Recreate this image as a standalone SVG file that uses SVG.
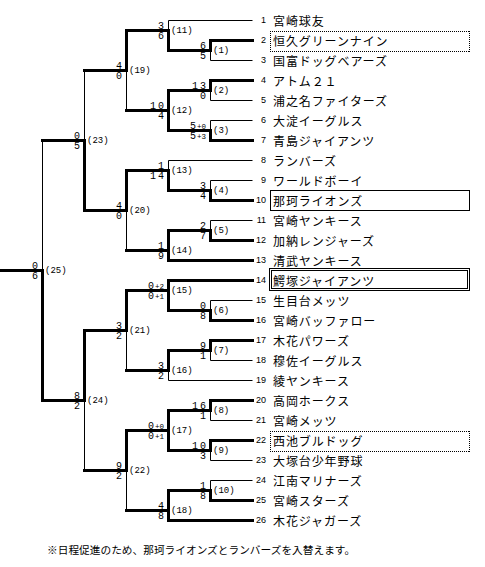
<svg xmlns="http://www.w3.org/2000/svg" width="485" height="567" viewBox="0 0 485 567">
<style>
.bg{fill:#fff}
.t{stroke:#000;stroke-width:1;fill:none}
.k{stroke:#000;stroke-width:3;fill:none;stroke-linecap:square;stroke-linejoin:miter}
.no{font-family:"Liberation Sans",Arial,sans-serif;font-size:9px;fill:#000;text-anchor:end}
.nm{font-family:"Noto Sans CJK JP","Noto Sans CJK SC",sans-serif;font-size:12px;letter-spacing:0.9px;fill:#000}
.sc{font-family:"Liberation Mono","DejaVu Sans Mono",monospace;font-size:10px;fill:#000;text-anchor:end}
.sm{font-size:7.5px}
.lb{font-family:"Liberation Mono","DejaVu Sans Mono",monospace;font-size:9px;fill:#000}
.dot{fill:none;stroke:#000;stroke-width:1;stroke-dasharray:1 1}
.box{fill:none;stroke:#000;stroke-width:1}
.note{font-family:"Noto Sans CJK JP","Noto Sans CJK SC",sans-serif;font-size:10.7px;fill:#000}
</style>
<rect class="bg" x="0" y="0" width="485" height="567"/>
<g id="connectors" transform="translate(0.5,0.5)">
<path class="t" d="M168 20H252M210 40H252M210 60H252M210 80H252M210 100H252M210 120H252M210 140H252M168 160H252M210 180H252M210 200H252M210 220H252M210 240H252M168 260H252M168 280H252M210 300H252M210 320H252M210 340H252M210 360H252M168 380H252M210 400H252M210 420H252M210 440H252M210 460H252M210 480H252M210 500H252M168 520H252"/>
<path class="t" d="M210 40V60M210 80V100M210 120V140M210 180V200M210 220V240M210 300V320M210 340V360M210 400V420M210 440V460M210 480V500"/>
<path class="t" d="M168 20V50M168 90V130M168 160V190M168 230V260M168 280V310M168 350V380M168 410V450M168 490V520"/>
<path class="t" d="M126 30V110M126 170V250M126 290V370M126 430V510M84 70V210M84 330V470M42 140V400"/>
<path class="k" d="M252 40H210V50H168"/>
<path class="k" d="M252 80H210V90H168"/>
<path class="k" d="M252 140H210V130H168"/>
<path class="k" d="M252 200H210V190H168"/>
<path class="k" d="M252 240H210V230H168"/>
<path class="k" d="M252 320H210V310H168"/>
<path class="k" d="M252 340H210V350H168"/>
<path class="k" d="M252 400H210V410H168"/>
<path class="k" d="M252 440H210V450H168"/>
<path class="k" d="M252 500H210V490H168"/>
<path class="k" d="M168 50V30H126"/>
<path class="k" d="M168 90V110H126M168 130V110"/>
<path class="k" d="M168 190V170H126"/>
<path class="k" d="M252 260H168V250H126M168 230V250"/>
<path class="k" d="M252 280H168V290H126M168 310V290"/>
<path class="k" d="M168 350V370H126"/>
<path class="k" d="M168 450V430H126M168 410V430"/>
<path class="k" d="M252 520H168V510H126M168 490V510"/>
<path class="k" d="M126 30V70H84"/>
<path class="k" d="M126 170V210H84"/>
<path class="k" d="M126 290V330H84"/>
<path class="k" d="M126 430V470H84"/>
<path class="k" d="M84 210V140H42"/>
<path class="k" d="M84 330V400H42"/>
<path class="k" d="M42 400V270H0"/>
</g>
<g id="team-1"><text class="no" x="266" y="23">1</text><text class="nm" x="273" y="25.5">宮崎球友</text></g>
<g id="team-2"><path class="dot" d="M270 31.5H470M270 51.5H470M270.5 31V52M469.5 31V52"/><text class="no" x="266" y="43">2</text><text class="nm" x="273" y="45.5">恒久グリーンナイン</text></g>
<g id="team-3"><text class="no" x="266" y="63">3</text><text class="nm" x="273" y="65.5">国富ドッグベアーズ</text></g>
<g id="team-4"><text class="no" x="266" y="83">4</text><text class="nm" x="273" y="85.5">アトム２１</text></g>
<g id="team-5"><text class="no" x="266" y="103">5</text><text class="nm" x="273" y="105.5">浦之名ファイターズ</text></g>
<g id="team-6"><text class="no" x="266" y="123">6</text><text class="nm" x="273" y="125.5">大淀イーグルス</text></g>
<g id="team-7"><text class="no" x="266" y="143">7</text><text class="nm" x="273" y="145.5">青島ジャイアンツ</text></g>
<g id="team-8"><text class="no" x="266" y="163">8</text><text class="nm" x="273" y="165.5">ランバーズ</text></g>
<g id="team-9"><text class="no" x="266" y="183">9</text><text class="nm" x="273" y="185.5">ワールドボーイ</text></g>
<g id="team-10"><rect class="box" x="270.5" y="190.5" width="199" height="20"/><text class="no" x="266" y="203">10</text><text class="nm" x="273" y="205.5">那珂ライオンズ</text></g>
<g id="team-11"><text class="no" x="266" y="223">11</text><text class="nm" x="273" y="225.5">宮崎ヤンキース</text></g>
<g id="team-12"><text class="no" x="266" y="243">12</text><text class="nm" x="273" y="245.5">加納レンジャーズ</text></g>
<g id="team-13"><text class="no" x="266" y="263">13</text><text class="nm" x="273" y="265.5">清武ヤンキース</text></g>
<g id="team-14"><rect class="box" x="269.5" y="268.5" width="200" height="22"/><rect class="box" x="271.5" y="270.5" width="196" height="18"/><text class="no" x="266" y="283">14</text><text class="nm" x="273" y="285.5">鰐塚ジャイアンツ</text></g>
<g id="team-15"><text class="no" x="266" y="303">15</text><text class="nm" x="273" y="305.5">生目台メッツ</text></g>
<g id="team-16"><text class="no" x="266" y="323">16</text><text class="nm" x="273" y="325.5">宮崎バッファロー</text></g>
<g id="team-17"><text class="no" x="266" y="343">17</text><text class="nm" x="273" y="345.5">木花パワーズ</text></g>
<g id="team-18"><text class="no" x="266" y="363">18</text><text class="nm" x="273" y="365.5">穆佐イーグルス</text></g>
<g id="team-19"><text class="no" x="266" y="383">19</text><text class="nm" x="273" y="385.5">綾ヤンキース</text></g>
<g id="team-20"><text class="no" x="266" y="403">20</text><text class="nm" x="273" y="405.5">高岡ホークス</text></g>
<g id="team-21"><text class="no" x="266" y="423">21</text><text class="nm" x="273" y="425.5">宮崎メッツ</text></g>
<g id="team-22"><path class="dot" d="M270 431.5H470M270 451.5H470M270.5 431V452M469.5 431V452"/><text class="no" x="266" y="443">22</text><text class="nm" x="273" y="445.5">西池ブルドッグ</text></g>
<g id="team-23"><text class="no" x="266" y="463">23</text><text class="nm" x="273" y="465.5">大塚台少年野球</text></g>
<g id="team-24"><text class="no" x="266" y="483">24</text><text class="nm" x="273" y="485.5">江南マリナーズ</text></g>
<g id="team-25"><text class="no" x="266" y="503">25</text><text class="nm" x="273" y="505.5">宮崎スターズ</text></g>
<g id="team-26"><text class="no" x="266" y="523">26</text><text class="nm" x="273" y="525.5">木花ジャガーズ</text></g>
<g id="match-1"><text class="sc" x="206" y="48.5">6</text><text class="sc" x="206" y="58.5">5</text><text class="lb" x="213" y="53">(1)</text></g>
<g id="match-2"><text class="sc" x="206" y="88.5">1<tspan dx="2">3</tspan></text><text class="sc" x="206" y="98.5">0</text><text class="lb" x="213" y="93">(2)</text></g>
<g id="match-3"><text class="sc" x="206" y="128.5">5<tspan class="sm" dx="1">+0</tspan></text><text class="sc" x="206" y="138.5">5<tspan class="sm" dx="1">+3</tspan></text><text class="lb" x="213" y="133">(3)</text></g>
<g id="match-4"><text class="sc" x="206" y="188.5">3</text><text class="sc" x="206" y="198.5">4</text><text class="lb" x="213" y="193">(4)</text></g>
<g id="match-5"><text class="sc" x="206" y="228.5">2</text><text class="sc" x="206" y="238.5">7</text><text class="lb" x="213" y="233">(5)</text></g>
<g id="match-6"><text class="sc" x="206" y="308.5">0</text><text class="sc" x="206" y="318.5">8</text><text class="lb" x="213" y="313">(6)</text></g>
<g id="match-7"><text class="sc" x="206" y="348.5">9</text><text class="sc" x="206" y="358.5">1</text><text class="lb" x="213" y="353">(7)</text></g>
<g id="match-8"><text class="sc" x="206" y="408.5">1<tspan dx="2">6</tspan></text><text class="sc" x="206" y="418.5">1</text><text class="lb" x="213" y="413">(8)</text></g>
<g id="match-9"><text class="sc" x="206" y="448.5">1<tspan dx="2">0</tspan></text><text class="sc" x="206" y="458.5">3</text><text class="lb" x="213" y="453">(9)</text></g>
<g id="match-10"><text class="sc" x="206" y="488.5">1</text><text class="sc" x="206" y="498.5">8</text><text class="lb" x="213" y="493">(10)</text></g>
<g id="match-11"><text class="sc" x="164" y="28.5">3</text><text class="sc" x="164" y="38.5">6</text><text class="lb" x="171" y="33">(11)</text></g>
<g id="match-12"><text class="sc" x="164" y="108.5">1<tspan dx="2">0</tspan></text><text class="sc" x="164" y="118.5">4</text><text class="lb" x="171" y="113">(12)</text></g>
<g id="match-13"><text class="sc" x="164" y="168.5">1</text><text class="sc" x="164" y="178.5">1<tspan dx="2">4</tspan></text><text class="lb" x="171" y="173">(13)</text></g>
<g id="match-14"><text class="sc" x="164" y="248.5">1</text><text class="sc" x="164" y="258.5">9</text><text class="lb" x="171" y="253">(14)</text></g>
<g id="match-15"><text class="sc" x="164" y="288.5">0<tspan class="sm" dx="1">+2</tspan></text><text class="sc" x="164" y="298.5">0<tspan class="sm" dx="1">+1</tspan></text><text class="lb" x="171" y="293">(15)</text></g>
<g id="match-16"><text class="sc" x="164" y="368.5">3</text><text class="sc" x="164" y="378.5">2</text><text class="lb" x="171" y="373">(16)</text></g>
<g id="match-17"><text class="sc" x="164" y="428.5">0<tspan class="sm" dx="1">+0</tspan></text><text class="sc" x="164" y="438.5">0<tspan class="sm" dx="1">+1</tspan></text><text class="lb" x="171" y="433">(17)</text></g>
<g id="match-18"><text class="sc" x="164" y="508.5">4</text><text class="sc" x="164" y="518.5">8</text><text class="lb" x="171" y="513">(18)</text></g>
<g id="match-19"><text class="sc" x="122" y="68.5">4</text><text class="sc" x="122" y="78.5">0</text><text class="lb" x="129" y="73">(19)</text></g>
<g id="match-20"><text class="sc" x="122" y="208.5">4</text><text class="sc" x="122" y="218.5">0</text><text class="lb" x="129" y="213">(20)</text></g>
<g id="match-21"><text class="sc" x="122" y="328.5">3</text><text class="sc" x="122" y="338.5">2</text><text class="lb" x="129" y="333">(21)</text></g>
<g id="match-22"><text class="sc" x="122" y="468.5">9</text><text class="sc" x="122" y="478.5">2</text><text class="lb" x="129" y="473">(22)</text></g>
<g id="match-23"><text class="sc" x="80" y="138.5">0</text><text class="sc" x="80" y="148.5">5</text><text class="lb" x="87" y="143">(23)</text></g>
<g id="match-24"><text class="sc" x="80" y="398.5">8</text><text class="sc" x="80" y="408.5">2</text><text class="lb" x="87" y="403">(24)</text></g>
<g id="match-25"><text class="sc" x="38" y="268.5">0</text><text class="sc" x="38" y="278.5">6</text><text class="lb" x="45" y="273">(25)</text></g>
<text class="note" x="47" y="554">※日程促進のため、那珂ライオンズとランバーズを入替えます。</text>
</svg>
